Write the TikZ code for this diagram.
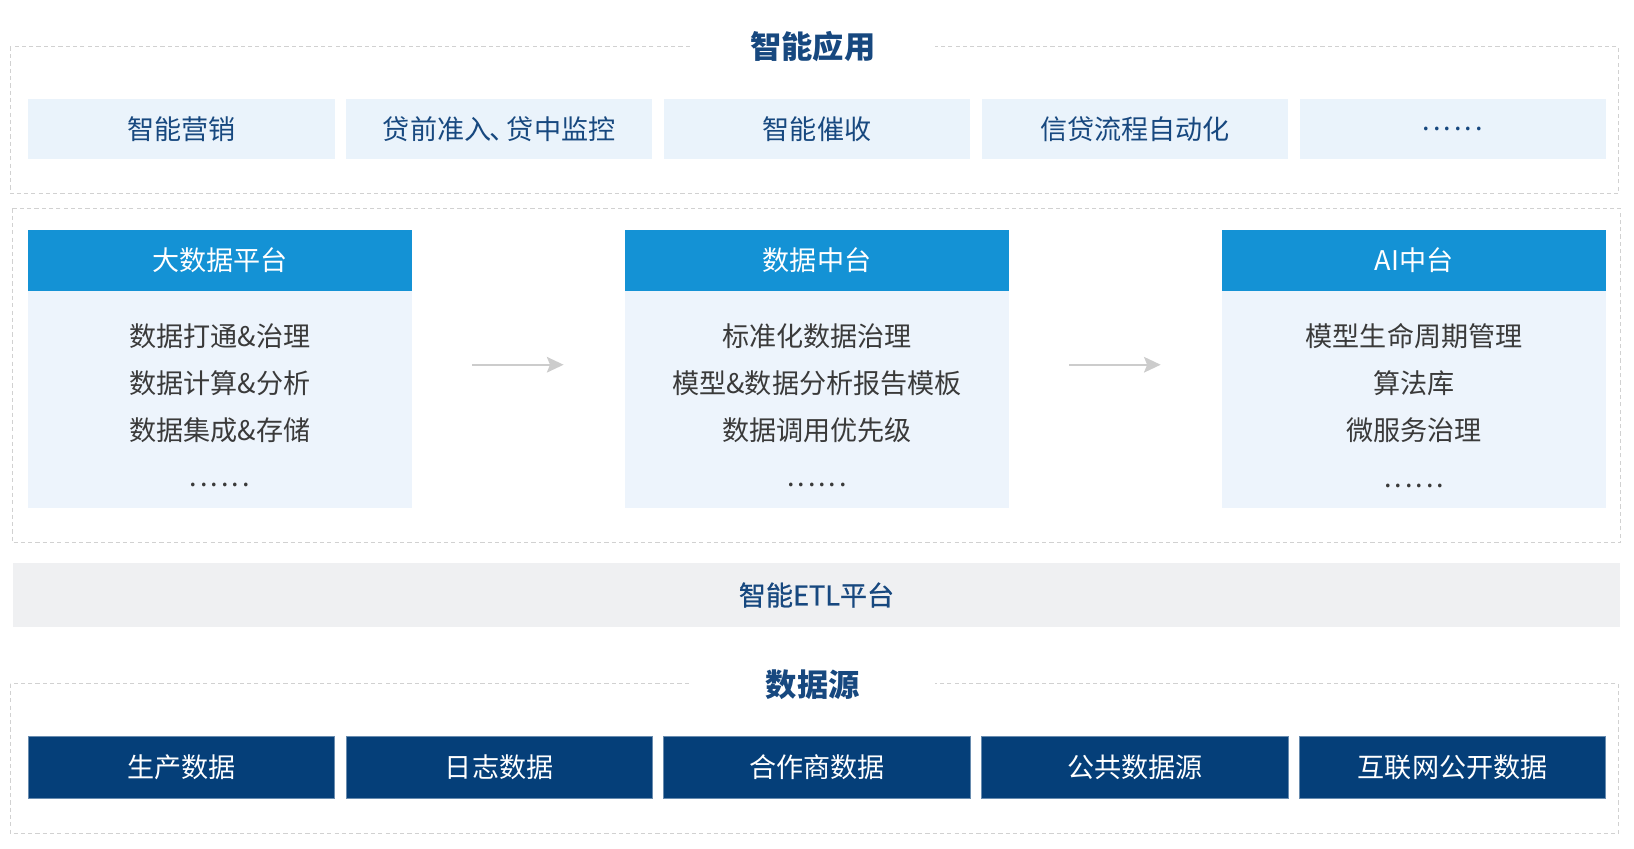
\documentclass[tikz,border=0pt]{standalone}
\usepackage{fontspec}
\setmainfont{Noto Sans CJK SC}
\newfontfamily\medfont{Noto Sans CJK SC}[FakeBold=0.8]
\usetikzlibrary{arrows.meta}
\definecolor{navy}{HTML}{17487F}
\definecolor{appfill}{HTML}{EAF3FB}
\definecolor{headblue}{HTML}{1492D5}
\definecolor{bodyfill}{HTML}{EDF4FC}
\definecolor{bodytext}{HTML}{3A3A3A}
\definecolor{etlgray}{HTML}{EFF0F2}
\definecolor{srcblue}{HTML}{053F79}
\newcommand{\dotrow}{.\kern2.8pt.\kern2.8pt.\kern2.8pt.\kern2.8pt.\kern2.8pt.}
\begin{document}
\begin{tikzpicture}[x=1pt,y=-1pt,
  frame/.style={draw=black!18, line width=1pt, dash pattern=on 4pt off 3pt},
  title/.style={fill=white, inner xsep=57pt, text=navy, font=\fontsize{30}{34}\selectfont\bfseries},
  appbox/.style={fill=appfill, minimum width=294pt, minimum height=58pt, text=navy, font=\fontsize{26}{30}\selectfont},
  headbox/.style={fill=headblue, minimum width=368pt, minimum height=58pt, text=white, font=\fontsize{26}{30}\selectfont},
  bodybox/.style={fill=bodyfill, minimum width=368pt, minimum height=208pt},
  itemlist/.style={align=center, text=bodytext, font=\fontsize{26}{45}\selectfont},
  srcbox/.style={fill=srcblue, draw=srcblue!60!white, line width=0.8pt, minimum width=294pt, minimum height=59pt, text=white, font=\fontsize{26}{30}\selectfont},
  flow/.style={draw=black!20, line width=2pt, -{Stealth[length=16pt,width=15pt,inset=3pt]}}]
  \useasboundingbox (0,0) rectangle (1568,814);
  \draw[frame] (10,45) rectangle (1553,186);
  \node[title] (apptitle) at (780,45) {智能应用};
  \node[appbox] (app1) at (174,124) {智能营销};
  \node[appbox] (app2) at (479,124) {贷前准入\kern-2pt、\kern-9pt贷中监控};
  \node[appbox] (app3) at (784,124) {智能催收};
  \node[appbox] (app4) at (1089,124) {信贷流程自动化};
  \node[appbox] (app5) at (1394,124) {\dotrow};
  \draw[frame] (12,200) rectangle (1555,521);
  \node[headbox] (bighead) at (211,250) {大数据平台};
  \node[headbox] (midhead) at (784,250) {数据中台};
  \node[headbox] (aihead) at (1357,250) {AI中台};
  \node[bodybox] (bigbody) at (211,383) {};
  \node[bodybox] (midbody) at (784,383) {};
  \node[bodybox] (aibody) at (1357,383) {};
  \node[itemlist] (biglist) at (211,389) {数据打通\&治理\\数据计算\&分析\\数据集成\&存储\\\dotrow};
  \node[itemlist] (midlist) at (784,389) {标准化数据治理\\模型\&数据分析报告模板\\数据调用优先级\\\dotrow};
  \node[itemlist] (ailist) at (1357,389) {模型生命周期管理\\算法库\\微服务治理\\\dotrow};
  \draw[flow] ([shift={(58,-33)}]bigbody.east) -- ([shift={(-59,-33)}]midbody.west);
  \draw[flow] ([shift={(58,-33)}]midbody.east) -- ([shift={(-59,-33)}]aibody.west);
  \node[fill=etlgray, minimum width=1543pt, minimum height=62pt, text=navy, font=\fontsize{26}{30}\selectfont\medfont] (etl) at (783.5,571) {智能ETL平台};
  \draw[frame] (10,656) rectangle (1553,800);
  \node[title, inner xsep=72pt] (srctitle) at (780,657) {数据源};
  \node[srcbox] (src1) at (174,736.5) {生产数据};
  \node[srcbox] (src2) at (479,736.5) {日志数据};
  \node[srcbox] (src3) at (784,736.5) {合作商数据};
  \node[srcbox] (src4) at (1089,736.5) {公共数据源};
  \node[srcbox] (src5) at (1394,736.5) {互联网公开数据};
\end{tikzpicture}
\end{document}
